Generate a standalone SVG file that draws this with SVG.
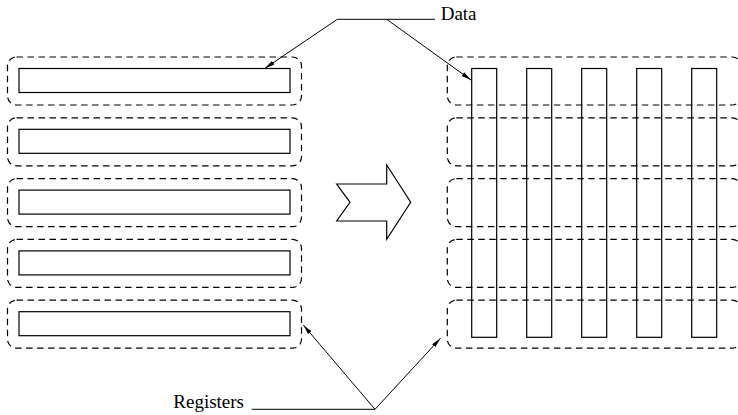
<svg xmlns="http://www.w3.org/2000/svg" width="738" height="415" viewBox="0 0 738 415">
<style>
.dash{fill:none;stroke:#000;stroke-width:1.2;stroke-dasharray:6.5,4.5}
.reg{fill:#fff;stroke:#000;stroke-width:1.2}
.col{fill:none;stroke:#000;stroke-width:1.2}
.lead{fill:none;stroke:#000;stroke-width:1}
.lbl{font-family:"Liberation Serif","Times New Roman",serif;font-size:19px;fill:#000}
</style>
<defs>
<marker id="ah" viewBox="0 0 10 6" refX="10" refY="3" markerWidth="10" markerHeight="6" markerUnits="userSpaceOnUse" orient="auto">
<path d="M0,0.8 L10,3 L0,5.2 z" fill="#000"/>
</marker>
</defs>
<rect width="738" height="415" fill="#fff"/>
<g id="left-registers">
<rect class="dash" x="7.5" y="57" width="294" height="48" rx="9"/>
<rect class="dash" x="7.5" y="117.8" width="294" height="48" rx="9"/>
<rect class="dash" x="7.5" y="178.6" width="294" height="48" rx="9"/>
<rect class="dash" x="7.5" y="239.4" width="294" height="48" rx="9"/>
<rect class="dash" x="7.5" y="300.2" width="294" height="48" rx="9"/>
<rect class="reg" x="19" y="68.5" width="271" height="24"/>
<rect class="reg" x="19" y="129.3" width="271" height="24"/>
<rect class="reg" x="19" y="190.1" width="271" height="24"/>
<rect class="reg" x="19" y="250.9" width="271" height="24"/>
<rect class="reg" x="19" y="311.7" width="271" height="24"/>
</g>
<g id="transform-arrow">
<path d="M336.7,184 L386.7,184 L386.7,165 L410.7,202.3 L386.7,239.3 L386.7,221 L336.7,221 L350,202.3 Z" fill="#fff" stroke="#000" stroke-width="1.2"/>
</g>
<g id="right-registers">
<rect class="dash" x="447.3" y="57" width="294" height="48" rx="9"/>
<rect class="dash" x="447.3" y="117.8" width="294" height="48" rx="9"/>
<rect class="dash" x="447.3" y="178.6" width="294" height="48" rx="9"/>
<rect class="dash" x="447.3" y="239.4" width="294" height="48" rx="9"/>
<rect class="dash" x="447.3" y="300.2" width="294" height="48" rx="9"/>
<rect class="col" x="471.7" y="68.5" width="25" height="268.8"/>
<rect class="col" x="526.7" y="68.5" width="25" height="268.8"/>
<rect class="col" x="581.7" y="68.5" width="25" height="268.8"/>
<rect class="col" x="636.7" y="68.5" width="25" height="268.8"/>
<rect class="col" x="691.7" y="68.5" width="25" height="268.8"/>
</g>
<g id="connectors">
<path class="lead" d="M435,19.3 L337.3,19.3 L265,68.3" marker-end="url(#ah)"/>
<path class="lead" d="M386.7,19.3 L471,80" marker-end="url(#ah)"/>
<path class="lead" d="M251.7,409.3 L375,409.3 L303.3,325" marker-end="url(#ah)"/>
<path class="lead" d="M375,409.3 L440.5,338.3" marker-end="url(#ah)"/>
</g>
<g id="labels">
<text class="lbl" x="440.7" y="19.5">Data</text>
<text class="lbl" x="173.3" y="408.3">Registers</text>
</g>
</svg>
